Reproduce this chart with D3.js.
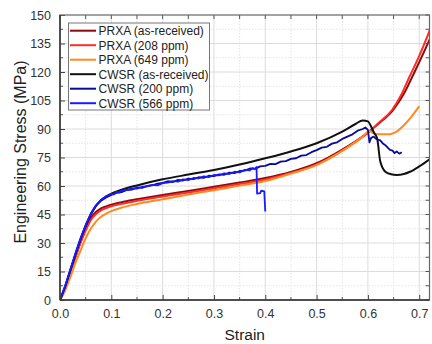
<!DOCTYPE html>
<html><head><meta charset="utf-8">
<script src="https://cdn.jsdelivr.net/npm/d3@7"></script>
<style>body{margin:0;background:#fff}svg{display:block;font-family:Arial,"Liberation Sans",sans-serif}</style>
</head><body><svg id="c" width="432" height="344"></svg>
<script>
const seriesNames = ["PRXA (as-received)","PRXA (208 ppm)","PRXA (649 ppm)","CWSR (as-received)","CWSR (200 ppm)","CWSR (566 ppm)"];
const seriesColors = ["#8b0a0a","#ff2a2a","#ff8a1e","#111111","#0a0a9a","#1a1aff"];
const xTicks = [0,0.1,0.2,0.3,0.4,0.5,0.6,0.7];
const yTicks = [0,15,30,45,60,75,90,105,120,135,150];

const prxaAR = [[0,0],[0.01,6],[0.02,14],[0.03,22.5],[0.04,30.5],[0.05,37.5],[0.06,43],[0.07,46.3],[0.08,48.2],[0.09,49.3],[0.1,50.2],[0.12,51.5],[0.15,53],[0.2,55.3],[0.25,57.4],[0.3,59.6],[0.35,61.8],[0.4,64.2],[0.45,67.4],[0.5,72],[0.55,79.2],[0.6,88.2],[0.62,92.6],[0.65,100.3],[0.67,108.5],[0.69,119.5],[0.71,131],[0.725,140]];
const prxa208 = [[0,0],[0.01,6],[0.02,14],[0.03,22.5],[0.04,30],[0.05,36.5],[0.06,42],[0.07,45.2],[0.08,47.2],[0.09,48.4],[0.1,49.3],[0.12,50.6],[0.15,52.2],[0.2,54.5],[0.25,56.6],[0.3,58.8],[0.35,61],[0.4,63.4],[0.45,66.8],[0.5,71.4],[0.55,78.6],[0.6,88],[0.62,93],[0.647,100],[0.665,108],[0.681,117.5],[0.7,128.5],[0.725,145]];
const prxa649 = [[0,0],[0.01,5],[0.02,12],[0.03,19.5],[0.04,26],[0.05,32.5],[0.06,37.5],[0.07,41.3],[0.08,43.8],[0.09,45.5],[0.1,46.8],[0.12,48.6],[0.15,50.5],[0.2,53],[0.25,55.5],[0.3,57.8],[0.35,60.2],[0.4,62.6],[0.45,66.5],[0.5,71],[0.55,78.5],[0.59,86],[0.603,89],[0.61,87.8],[0.62,87.3],[0.643,87.3],[0.655,88.5],[0.67,92],[0.685,96.5],[0.7,102]];
const cwsrAR = [[0,0],[0.01,7],[0.02,15.5],[0.03,24],[0.04,32],[0.05,39],[0.06,45],[0.07,49.5],[0.08,52.5],[0.09,54.5],[0.1,56],[0.12,58],[0.15,60.3],[0.2,63.5],[0.25,66],[0.3,68.4],[0.35,71.3],[0.4,74.6],[0.45,78.2],[0.5,82.5],[0.55,88.6],[0.575,92.5],[0.59,94.5],[0.6,94],[0.605,92],[0.612,88],[0.618,85],[0.624,73],[0.634,67.5],[0.645,66.2],[0.656,65.8],[0.67,66.3],[0.682,67.5],[0.7,70.3],[0.725,75]];
const cwsr200 = [[0,0],[0.01,7],[0.02,15.5],[0.03,24],[0.04,32],[0.05,39],[0.06,45],[0.07,49.5],[0.08,52.3],[0.09,54],[0.1,55.3],[0.11,56.4],[0.12,56.8],[0.13,57.9],[0.14,58.1],[0.15,59.2],[0.16,59],[0.17,60.1],[0.18,60.4],[0.19,61.3],[0.2,61.6],[0.21,62.5],[0.22,62.1],[0.23,63.2],[0.24,62.9],[0.25,63.9],[0.26,63.6],[0.27,64.6],[0.28,64.3],[0.29,65.4],[0.3,65.2],[0.31,66.1],[0.32,65.9],[0.33,67],[0.34,66.8],[0.35,67.9],[0.36,68.1],[0.37,69.2],[0.38,69],[0.39,70.3],[0.4,70.6],[0.41,71.6],[0.42,71.5],[0.43,72.8],[0.44,73.1],[0.45,74.3],[0.46,74.6],[0.47,76],[0.48,76.3],[0.49,77.8],[0.5,78.9],[0.51,80.2],[0.52,80.6],[0.53,82.3],[0.54,83],[0.55,84.8],[0.56,86],[0.57,87.2],[0.58,89.1],[0.59,90],[0.595,90.8],[0.6,89.5],[0.603,83],[0.606,85.2],[0.611,86],[0.617,84.6],[0.624,84],[0.629,82.4],[0.634,81.5],[0.639,80.1],[0.643,79],[0.648,78.6],[0.652,77.3],[0.656,78.2],[0.661,77],[0.666,77.8]];
const cwsr566 = [[0,0],[0.01,7.5],[0.02,16],[0.03,24.5],[0.04,32.5],[0.05,39.5],[0.055,42.5],[0.06,45.5],[0.065,47.8],[0.07,49.8],[0.075,51.2],[0.08,52.8],[0.085,53.5],[0.09,54.6],[0.095,55],[0.1,55.9],[0.105,55.6],[0.11,56.9],[0.115,56.5],[0.12,57.6],[0.13,57.9],[0.14,58.7],[0.15,58.6],[0.16,59.6],[0.17,59.8],[0.18,60.6],[0.19,60.3],[0.2,61.5],[0.21,61.8],[0.22,62.6],[0.23,62.3],[0.24,63.5],[0.25,63.1],[0.26,64.2],[0.27,64],[0.28,65.1],[0.29,64.7],[0.3,65.8],[0.31,65.6],[0.32,66.7],[0.33,66.3],[0.34,67.5],[0.35,67.2],[0.36,68.5],[0.37,68.3],[0.375,69.4],[0.38,69],[0.383,70],[0.384,56],[0.39,56.2],[0.392,57.5],[0.398,57.2],[0.4,46.6]];
const allSeries = [prxaAR, prxa208, prxa649, cwsrAR, cwsr200, cwsr566];

const svg = d3.select("#c");
const L = 60, R = 429.5, T = 15, B = 300;
const x = d3.scaleLinear().domain([0, 0.72]).range([L, R]);
const y = d3.scaleLinear().domain([0, 150]).range([B, T]);

// grid
const minorX = d3.range(0.05, 0.72, 0.1);
const minorY = d3.range(7.5, 150, 15);
const g = svg.append("g");
g.selectAll(".mx").data(minorX).join("line").attr("x1", d=>x(d)).attr("x2", d=>x(d)).attr("y1", T).attr("y2", B)
  .attr("stroke", "#e4e4e4").attr("stroke-dasharray", "1.5,1.5");
g.selectAll(".my").data(minorY).join("line").attr("y1", d=>y(d)).attr("y2", d=>y(d)).attr("x1", L).attr("x2", R)
  .attr("stroke", "#e4e4e4").attr("stroke-dasharray", "1.5,1.5");
g.selectAll(".gx").data(xTicks.slice(1)).join("line").attr("x1", d=>x(d)).attr("x2", d=>x(d)).attr("y1", T).attr("y2", B)
  .attr("stroke", "#dcdcdc").attr("stroke-width", 1);
g.selectAll(".gy").data(yTicks.slice(1, -1)).join("line").attr("y1", d=>y(d)).attr("y2", d=>y(d)).attr("x1", L).attr("x2", R)
  .attr("stroke", "#dcdcdc").attr("stroke-width", 1);

// curves
svg.append("clipPath").attr("id", "clip").append("rect").attr("x", L).attr("y", T).attr("width", R - L).attr("height", B - T);
const smooth = d3.line().x(d => x(d[0])).y(d => y(d[1])).curve(d3.curveMonotoneX);
const jagged = d3.line().x(d => x(d[0])).y(d => y(d[1])).curve(d3.curveLinear);
const cg = svg.append("g").attr("clip-path", "url(#clip)");
allSeries.forEach((s, i) => {
  cg.append("path").datum(s).attr("d", i >= 4 ? jagged : smooth).attr("fill", "none")
    .attr("stroke", seriesColors[i]).attr("stroke-width", i >= 4 ? 1.8 : 2).attr("stroke-linejoin", "round");
});

// axes
const bottom = d3.axisBottom(x).tickValues(xTicks).tickFormat(d3.format(".1f")).tickSizeInner(-5).tickSizeOuter(0).tickPadding(9);
const left = d3.axisLeft(y).tickValues(yTicks).tickFormat(d3.format("d")).tickSizeInner(-5).tickSizeOuter(0).tickPadding(9);
const bx = svg.append("g").attr("transform", `translate(0,${B})`).call(bottom);
const ly = svg.append("g").attr("transform", `translate(${L},0)`).call(left);
[bx, ly].forEach(a => {
  a.selectAll("text").attr("font-size", "12.5px").attr("fill", "#333").attr("font-family", "Arial, 'Liberation Sans', sans-serif");
  a.selectAll(".tick line").attr("stroke", "#444");
  a.select(".domain").remove();
});
// minor ticks + top/right ticks
const tk = svg.append("g").attr("stroke", "#555").attr("stroke-width", 1);
minorX.forEach(v => { tk.append("line").attr("x1", x(v)).attr("x2", x(v)).attr("y1", B).attr("y2", B - 3); });
minorY.forEach(v => { tk.append("line").attr("y1", y(v)).attr("y2", y(v)).attr("x1", L).attr("x2", L + 3); });
xTicks.concat(minorX).forEach(v => { tk.append("line").attr("x1", x(v)).attr("x2", x(v)).attr("y1", T).attr("y2", T + 4); });
yTicks.concat(minorY).forEach(v => { tk.append("line").attr("y1", y(v)).attr("y2", y(v)).attr("x1", R).attr("x2", R - 4); });
// frame
svg.append("rect").attr("x", L).attr("y", T).attr("width", R - L).attr("height", B - T)
  .attr("fill", "none").attr("stroke", "#666").attr("stroke-width", 1.2);
svg.append("line").attr("x1", L).attr("x2", R).attr("y1", B).attr("y2", B).attr("stroke", "#333").attr("stroke-width", 1.5);
svg.append("line").attr("x1", L).attr("x2", L).attr("y1", T).attr("y2", B).attr("stroke", "#333").attr("stroke-width", 1.5);

// axis titles
svg.append("text").attr("x", (L + R) / 2).attr("y", 340).attr("text-anchor", "middle")
  .attr("font-size", "15.5px").attr("fill", "#222").text("Strain");
svg.append("text").attr("transform", `translate(26,152) rotate(-90)`).attr("text-anchor", "middle")
  .attr("font-size", "16px").attr("fill", "#222").text("Engineering Stress (MPa)");

// legend
const lg = svg.append("g");
lg.append("rect").attr("x", 68.5).attr("y", 23).attr("width", 141).attr("height", 87)
  .attr("fill", "#fff").attr("stroke", "#777").attr("stroke-width", 1);
seriesNames.forEach((n, i) => {
  const yy = 30.7 + i * 14.5;
  lg.append("line").attr("x1", 70).attr("x2", 96).attr("y1", yy).attr("y2", yy).attr("stroke", seriesColors[i]).attr("stroke-width", 2);
  lg.append("text").attr("x", 98.5).attr("y", yy + 4.3).attr("font-size", "12px").attr("fill", "#222").text(n);
});
</script></body></html>
